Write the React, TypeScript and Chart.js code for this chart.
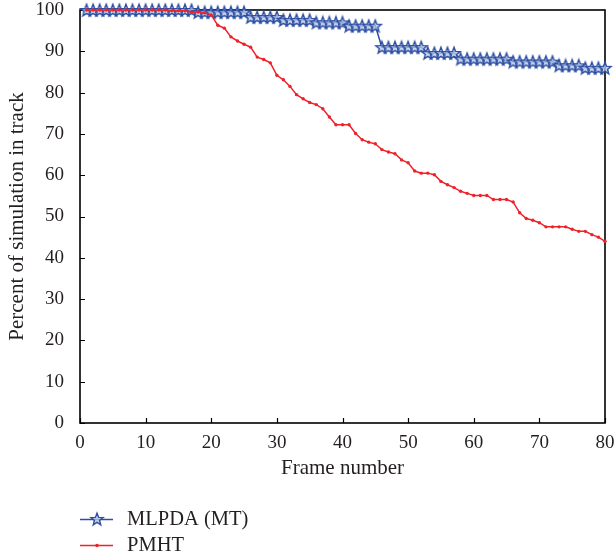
import React, { useEffect, useRef } from 'react';
import { Chart, registerables } from 'chart.js';

Chart.register(...registerables);

const frames = [
  1, 2, 3, 4, 5, 6, 7, 8, 9, 10, 11, 12, 13, 14, 15, 16, 17, 18, 19, 20,
  21, 22, 23, 24, 25, 26, 27, 28, 29, 30, 31, 32, 33, 34, 35, 36, 37, 38, 39, 40,
  41, 42, 43, 44, 45, 46, 47, 48, 49, 50, 51, 52, 53, 54, 55, 56, 57, 58, 59, 60,
  61, 62, 63, 64, 65, 66, 67, 68, 69, 70, 71, 72, 73, 74, 75, 76, 77, 78, 79, 80,
];

const mlpdaValues = [
  100, 100, 100, 100, 100, 100, 100, 100, 100, 100, 100, 100, 100, 100, 100, 100, 100,
  99.5, 99.5, 99.5, 99.5, 99.5, 99.5, 99.5, 99.5,
  98.3, 98.3, 98.3, 98.3, 98.3,
  97.6, 97.6, 97.6, 97.6, 97.6,
  97.0, 97.0, 97.0, 97.0, 97.0,
  96.2, 96.2, 96.2, 96.2, 96.2,
  91.0, 91.0, 91.0, 91.0, 91.0, 91.0, 91.0,
  89.6, 89.6, 89.6, 89.6, 89.6,
  88.2, 88.2, 88.2, 88.2, 88.2, 88.2, 88.2, 88.2,
  87.5, 87.5, 87.5, 87.5, 87.5, 87.5, 87.5,
  86.6, 86.6, 86.6, 86.6,
  86.0, 86.0, 86.0, 86.0,
];

const pmhtValues = [
  100, 100, 100, 100, 100, 100, 100, 100, 100, 100, 100, 100, 100,
  99.8, 99.8, 99.8, 99.5, 99.5, 99.3, 98.8,
  96.3, 95.6, 93.5, 92.5, 91.7, 91.0, 88.6, 88.0, 87.2, 84.2,
  83.1, 81.5, 79.5, 78.5, 77.6, 77.1, 76.1, 74.1, 72.2, 72.2,
  72.2, 70.1, 68.6, 68.0, 67.6, 66.2, 65.6, 65.2, 63.7, 63.0,
  61.0, 60.5, 60.5, 60.1, 58.5, 57.7, 57.0, 56.1, 55.6, 55.1,
  55.1, 55.1, 54.1, 54.1, 54.1, 53.5, 50.9, 49.5, 49.1, 48.5,
  47.5, 47.5, 47.5, 47.5, 46.9, 46.4, 46.4, 45.6, 45.0, 44.0,
];

const seriesNames = ['MLPDA (MT)', 'PMHT'];
const xRange = [0, 80];
const yRange = [0, 100];
const tickStep = 10;

const BLUE = '#2C4EA2';
const RED = '#EE2229';
const TEXT = '#231F20';
const FONT = "'Liberation Serif', 'DejaVu Serif', serif";

function makeStar(): HTMLCanvasElement {
  const c = document.createElement('canvas');
  const s = 16;
  c.width = s;
  c.height = s;
  const g = c.getContext('2d')!;
  const cx = s / 2;
  const cy = s / 2 + 0.6;
  const R = 6.4;
  const r = 2.7;
  g.beginPath();
  for (let i = 0; i < 10; i++) {
    const ang = -Math.PI / 2 + (i * Math.PI) / 5;
    const rad = i % 2 === 0 ? R : r;
    const px = cx + rad * Math.cos(ang);
    const py = cy + rad * Math.sin(ang);
    if (i === 0) g.moveTo(px, py);
    else g.lineTo(px, py);
  }
  g.closePath();
  g.fillStyle = 'rgba(190,202,232,0.75)';
  g.fill();
  g.lineWidth = 1.4;
  g.strokeStyle = BLUE;
  g.stroke();
  return c;
}

export default function App() {
  const ref = useRef<HTMLCanvasElement | null>(null);

  useEffect(() => {
    if (!ref.current) return;
    const star = makeStar();

    const framePlugin = {
      id: 'framePlugin',
      beforeDatasetsDraw(chart: any) {
        const { ctx, chartArea, scales } = chart;
        const { left, right, top, bottom } = chartArea;
        ctx.save();
        ctx.strokeStyle = '#000';
        ctx.lineWidth = 1.2;
        ctx.beginPath();
        scales.x.ticks.forEach((t: any) => {
          const px = Math.round(scales.x.getPixelForValue(t.value)) + 0.5;
          ctx.moveTo(px, bottom);
          ctx.lineTo(px, bottom - 5);
        });
        scales.y.ticks.forEach((t: any) => {
          const py = Math.round(scales.y.getPixelForValue(t.value)) + 0.5;
          ctx.moveTo(left, py);
          ctx.lineTo(left + 5, py);
        });
        ctx.stroke();
        ctx.lineWidth = 1.6;
        ctx.strokeRect(left, top, right - left, bottom - top);
        ctx.restore();
      },
      afterDraw(chart: any) {
        const { ctx } = chart;
        const rows = [
          { y: 519.5, color: BLUE, name: seriesNames[0], kind: 'star' },
          { y: 545.5, color: RED, name: seriesNames[1], kind: 'dot' },
        ];
        ctx.save();
        rows.forEach((row) => {
          ctx.strokeStyle = row.color;
          ctx.lineWidth = 1.5;
          ctx.beginPath();
          ctx.moveTo(80, row.y);
          ctx.lineTo(113, row.y);
          ctx.stroke();
          if (row.kind === 'star') {
            ctx.drawImage(star, 97 - star.width / 2, row.y - star.height / 2 - 0.6);
          } else {
            ctx.fillStyle = row.color;
            ctx.beginPath();
            ctx.arc(97, row.y, 1.8, 0, Math.PI * 2);
            ctx.fill();
          }
          ctx.fillStyle = TEXT;
          ctx.font = `20.5px ${FONT}`;
          ctx.textBaseline = 'middle';
          ctx.textAlign = 'left';
          ctx.fillText(row.name, 127, row.y);
        });
        ctx.restore();
      },
    };

    const chart = new Chart(ref.current, {
      type: 'line',
      data: {
        datasets: [
          {
            label: seriesNames[0],
            data: frames.map((f, i) => ({ x: f, y: mlpdaValues[i] })),
            borderColor: BLUE,
            backgroundColor: BLUE,
            borderWidth: 1.5,
            pointStyle: star,
            pointRadius: 7,
            pointHoverRadius: 7,
            tension: 0,
            clip: false,
            order: 2,
          } as any,
          {
            label: seriesNames[1],
            data: frames.map((f, i) => ({ x: f, y: pmhtValues[i] })),
            borderColor: RED,
            backgroundColor: RED,
            borderWidth: 1.5,
            pointStyle: 'circle',
            pointRadius: 1.7,
            pointBorderWidth: 0,
            pointHoverRadius: 2,
            tension: 0,
            clip: false,
            order: 1,
          } as any,
        ],
      },
      options: {
        responsive: false,
        animation: false,
        events: [],
        layout: { padding: { top: 10, right: 11, left: 0, bottom: 72 } },
        plugins: {
          legend: { display: false },
          tooltip: { enabled: false },
        },
        scales: {
          x: {
            type: 'linear',
            min: xRange[0],
            max: xRange[1],
            afterFit: (s: any) => {
              s.height = 65;
              s.paddingLeft = 0;
              s.paddingRight = 0;
            },
            ticks: {
              stepSize: tickStep,
              color: TEXT,
              font: { family: FONT, size: 19, lineHeight: 1 },
              padding: 3,
              maxRotation: 0,
            },
            grid: { display: false },
            border: { display: false },
            title: {
              display: true,
              text: 'Frame number',
              color: TEXT,
              font: { family: FONT, size: 21 },
              padding: { top: 0, bottom: 7 },
            },
          },
          y: {
            type: 'linear',
            min: yRange[0],
            max: yRange[1],
            afterFit: (s: any) => {
              s.width = 80;
              s.paddingTop = 0;
              s.paddingBottom = 0;
            },
            ticks: {
              stepSize: tickStep,
              color: TEXT,
              font: { family: FONT, size: 19, lineHeight: 1 },
              padding: 8,
            },
            grid: { display: false },
            border: { display: false },
            title: {
              display: true,
              text: 'Percent of simulation in track',
              color: TEXT,
              font: { family: FONT, size: 21 },
              padding: { top: 5, bottom: 0 },
            },
          },
        },
      },
      plugins: [framePlugin],
    });

    return () => chart.destroy();
  }, []);

  return (
    <div style={{ position: 'fixed', left: 0, top: 0, width: 616, height: 560, background: '#fff' }}>
      <canvas ref={ref} width={616} height={560} style={{ display: 'block', width: 616, height: 560 }} />
    </div>
  );
}
